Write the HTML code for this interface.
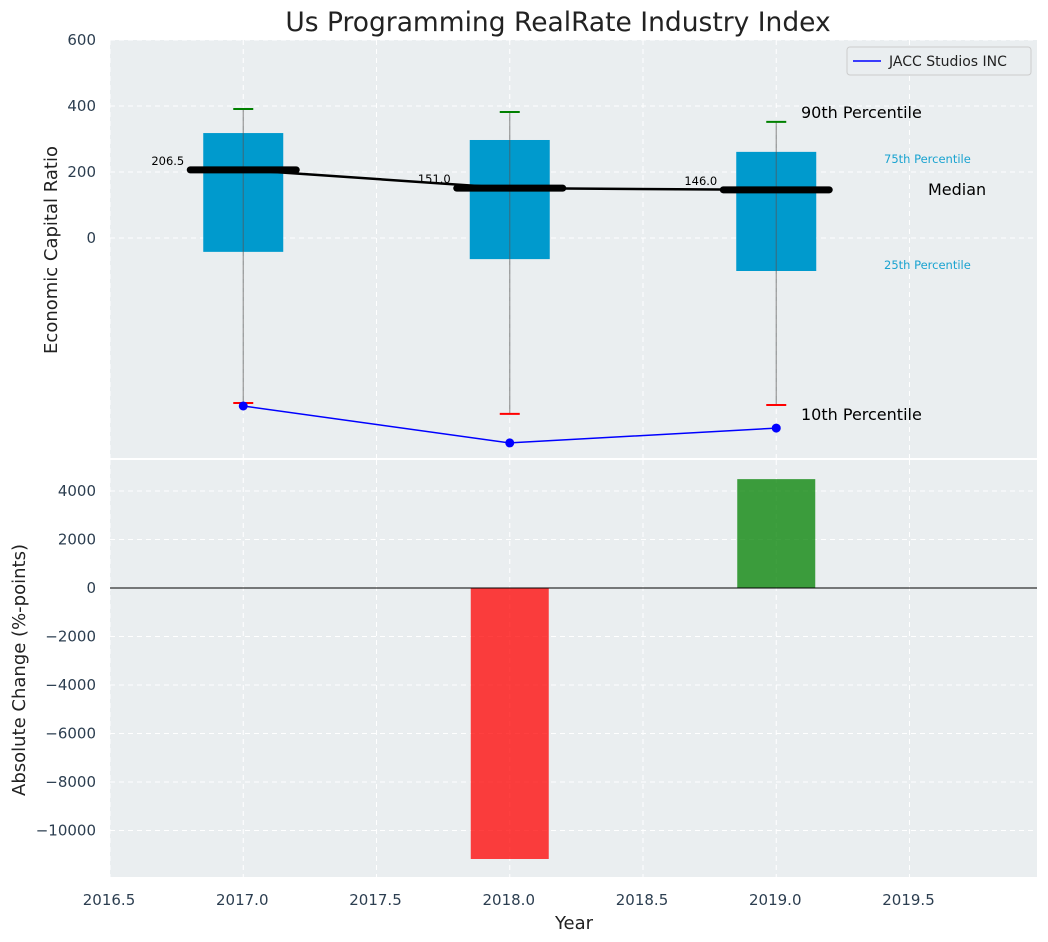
<!DOCTYPE html>
<html><head><meta charset="utf-8"><style>
body{margin:0;background:#fff;}
svg{display:block;font-family:"DejaVu Sans","Liberation Sans",sans-serif;}
</style></head><body>
<svg id="c" width="1048" height="942"></svg>
<script>
const years=[2017,2018,2019];
const p10=[-500,-533,-506];
const p25=[-42,-64,-100];
const medians=[206.5,151.0,146.0];
const p75=[318,297,261];
const p90=[391,382,352];
const companyVals=[-509,-621,-576];
const changeYears=[2018,2019];
const changeVals=[-11175,4490];
const topTicks=[0,200,400,600];
const bottomTicks=[-10000,-8000,-6000,-4000,-2000,0,2000,4000];
const xTicks=[2016.5,2017,2017.5,2018,2018.5,2019,2019.5];

const NS="http://www.w3.org/2000/svg";
const svg=document.getElementById('c');
function el(tag,attrs,parent,text){const e=document.createElementNS(NS,tag);for(const k in attrs)e.setAttribute(k,attrs[k]);if(text!==undefined)e.textContent=text;(parent||svg).appendChild(e);return e;}
const L=110,R=1037;
const x=v=>110+(v-2016.5)*266.5;
const yT=v=>238-v*0.33;
const yB=v=>588-v*(48.5/2000);
const T0=40,T1=458,B0=460,B1=877;

let e=el('rect',{x:L,y:T0,width:R-L,height:T1-T0,fill:'#eaeef0'});

e=el('rect',{x:L,y:B0,width:R-L,height:B1-B0,fill:'#eaeef0'});


xTicks.forEach(t=>{
  el('line',{x1:x(t),x2:x(t),y1:T0,y2:T1,stroke:'#fff','stroke-dasharray':'5,4','stroke-width':1});
  el('line',{x1:x(t),x2:x(t),y1:B0,y2:B1,stroke:'#fff','stroke-dasharray':'5,4','stroke-width':1});
  e=el('text',{x:x(t)-1,y:905,'text-anchor':'middle','font-size':15,fill:'#2c3e50'},svg,t.toFixed(1));
  
});
topTicks.forEach(t=>{
  el('line',{x1:L,x2:R,y1:yT(t),y2:yT(t),stroke:'#fff','stroke-dasharray':'5,4'});
  e=el('text',{x:96,y:yT(t)+5,'text-anchor':'end','font-size':15,fill:'#2c3e50'},svg,t);
  
});
bottomTicks.forEach(t=>{
  el('line',{x1:L,x2:R,y1:yB(t),y2:yB(t),stroke:'#fff','stroke-dasharray':'5,4'});
  e=el('text',{x:96,y:yB(t)+5,'text-anchor':'end','font-size':15,fill:'#2c3e50'},svg,t===0?'0':(t<0?'−'+(-t):t));
  
});

years.forEach((yr,i)=>{
  const cx=x(yr);
  e=el('rect',{x:cx-40,y:yT(p75[i]),width:80,height:yT(p25[i])-yT(p75[i]),fill:'#009ACD'});
  
  e=el('line',{x1:cx,x2:cx,y1:yT(p90[i]),y2:yT(p10[i]),stroke:'#555','stroke-opacity':0.6,'stroke-width':1.2});
  
  e=el('line',{x1:cx-10,x2:cx+10,y1:yT(p90[i]),y2:yT(p90[i]),stroke:'green','stroke-width':2});
  
  e=el('line',{x1:cx-10,x2:cx+10,y1:yT(p10[i]),y2:yT(p10[i]),stroke:'red','stroke-width':2});
  
});
e=el('polyline',{points:years.map((yr,i)=>x(yr)+','+yT(medians[i])).join(' '),fill:'none',stroke:'#000','stroke-width':2.5});

years.forEach((yr,i)=>{
  const cx=x(yr);
  e=el('line',{x1:cx-53,x2:cx+53,y1:yT(medians[i]),y2:yT(medians[i]),stroke:'#000','stroke-width':7,'stroke-linecap':'round'});
  
  e=el('text',{x:cx-59,y:yT(medians[i])-5,'text-anchor':'end','font-size':11.5,fill:'#000'},svg,medians[i].toFixed(1));
  
});
e=el('polyline',{points:years.map((yr,i)=>x(yr)+','+yT(companyVals[i])).join(' '),fill:'none',stroke:'blue','stroke-width':1.5});

years.forEach((yr,i)=>{
  e=el('circle',{cx:x(yr),cy:yT(companyVals[i]),r:4.5,fill:'blue'});
  
});
const ann=[['90th Percentile',801,118,16,'#000','annotation-p90'],['75th Percentile',884,163,11.5,'#1aa3d0','annotation-p75'],['Median',928,195,16,'#000','annotation-median'],['25th Percentile',884,269,11.5,'#1aa3d0','annotation-p25'],['10th Percentile',801,420,16,'#000','annotation-p10']];
ann.forEach(a=>{e=el('text',{x:a[1],y:a[2],'font-size':a[3],fill:a[4]},svg,a[0]);});

const lg=el('g',{});

el('rect',{x:847,y:47,width:184,height:28,rx:3,fill:'#eaeef0',stroke:'#ccc'},lg);
el('line',{x1:853,x2:881,y1:61,y2:61,stroke:'blue','stroke-width':1.5},lg);
el('text',{x:889,y:66,'font-size':14,fill:'#222'},lg,'JACC Studios INC');

changeYears.forEach((yr,i)=>{
  const v=changeVals[i],cx=x(yr);
  e=el('rect',{x:cx-39,y:Math.min(yB(v),yB(0)),width:78,height:Math.abs(yB(v)-yB(0)),fill:v<0?'#ff0000':'#008000','fill-opacity':0.75});
  
});
e=el('line',{x1:L,x2:R,y1:yB(0),y2:yB(0),stroke:'#000','stroke-width':1});


e=el('text',{x:558,y:31,'text-anchor':'middle','font-size':26.5,fill:'#222'},svg,'Us Programming RealRate Industry Index');

e=el('text',{x:0,y:0,'text-anchor':'middle','font-size':18,fill:'#222',transform:'translate(57,250) rotate(-90)'},svg,'Economic Capital Ratio');

e=el('text',{x:0,y:0,'text-anchor':'middle','font-size':18,fill:'#222',transform:'translate(25,670) rotate(-90)'},svg,'Absolute Change (%-points)');

e=el('text',{x:574,y:929,'text-anchor':'middle','font-size':18,fill:'#222'},svg,'Year');

</script>
</body></html>
